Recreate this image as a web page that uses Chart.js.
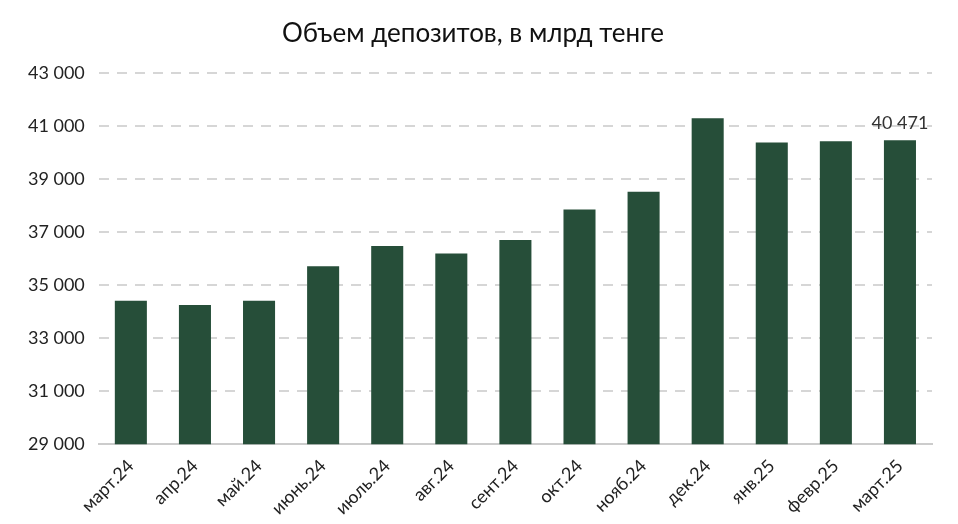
<!DOCTYPE html>
<html><head><meta charset="utf-8">
<script src="https://cdn.jsdelivr.net/npm/chart.js@4"></script>
<style>html,body{margin:0;padding:0;background:#fff}#w{width:958px;height:524px}</style>
</head><body><div id="w"><canvas id="c"></canvas></div>
<script>
const categories = ["март.24","апр.24","май.24","июнь.24","июль.24","авг.24","сент.24","окт.24","нояб.24","дек.24","янв.25","февр.25","март.25"];
const deposits = [34420,34260,34420,35720,36480,36200,36710,37860,38530,41300,40390,40430,40471];
const title = "Объем депозитов, в млрд тенге";
const fmt = v => String(Math.round(v)).replace(/\B(?=(\d{3})+(?!\d))/g, " ");
const lastLabel = {
  id: "lastLabel",
  afterDatasetsDraw(chart) {
    const meta = chart.getDatasetMeta(0);
    const i = deposits.length - 1;
    const el = meta.data[i];
    const ctx = chart.ctx;
    ctx.save();
    ctx.font = "18px Lato";
    ctx.fillStyle = "#333";
    ctx.textAlign = "center";
    ctx.textBaseline = "bottom";
    ctx.fillText(fmt(deposits[i]), el.x, el.y - 8);
    ctx.restore();
  }
};
new Chart(document.getElementById("c"), {
  type: "bar",
  data: { labels: categories, datasets: [{ data: deposits, backgroundColor: "#264e39", barPercentage: 0.5, categoryPercentage: 1 }] },
  options: {
    responsive: true, maintainAspectRatio: false, animation: false,
    layout: { padding: { left: 14, right: 26, top: 12, bottom: 2 } },
    plugins: {
      legend: { display: false }, tooltip: { enabled: false },
      title: { display: true, text: title, color: "#111", font: { family: "Lato", size: 26, weight: "normal" }, padding: { top: 6, bottom: 24 } }
    },
    scales: {
      x: {
        grid: { display: false },
        border: { color: "#ccc", width: 2 },
        ticks: { color: "#222", font: { family: "Lato", size: 18 }, maxRotation: 45, minRotation: 45 }
      },
      y: {
        min: 29000, max: 43000,
        border: { display: false, dash: [10, 8] },
        grid: { color: "#d6d6d6", lineWidth: 2, drawTicks: false },
        ticks: { stepSize: 2000, color: "#222", padding: 14, font: { family: "Lato", size: 18 }, callback: v => fmt(v) }
      }
    }
  },
  plugins: [lastLabel]
});
</script></body></html>
